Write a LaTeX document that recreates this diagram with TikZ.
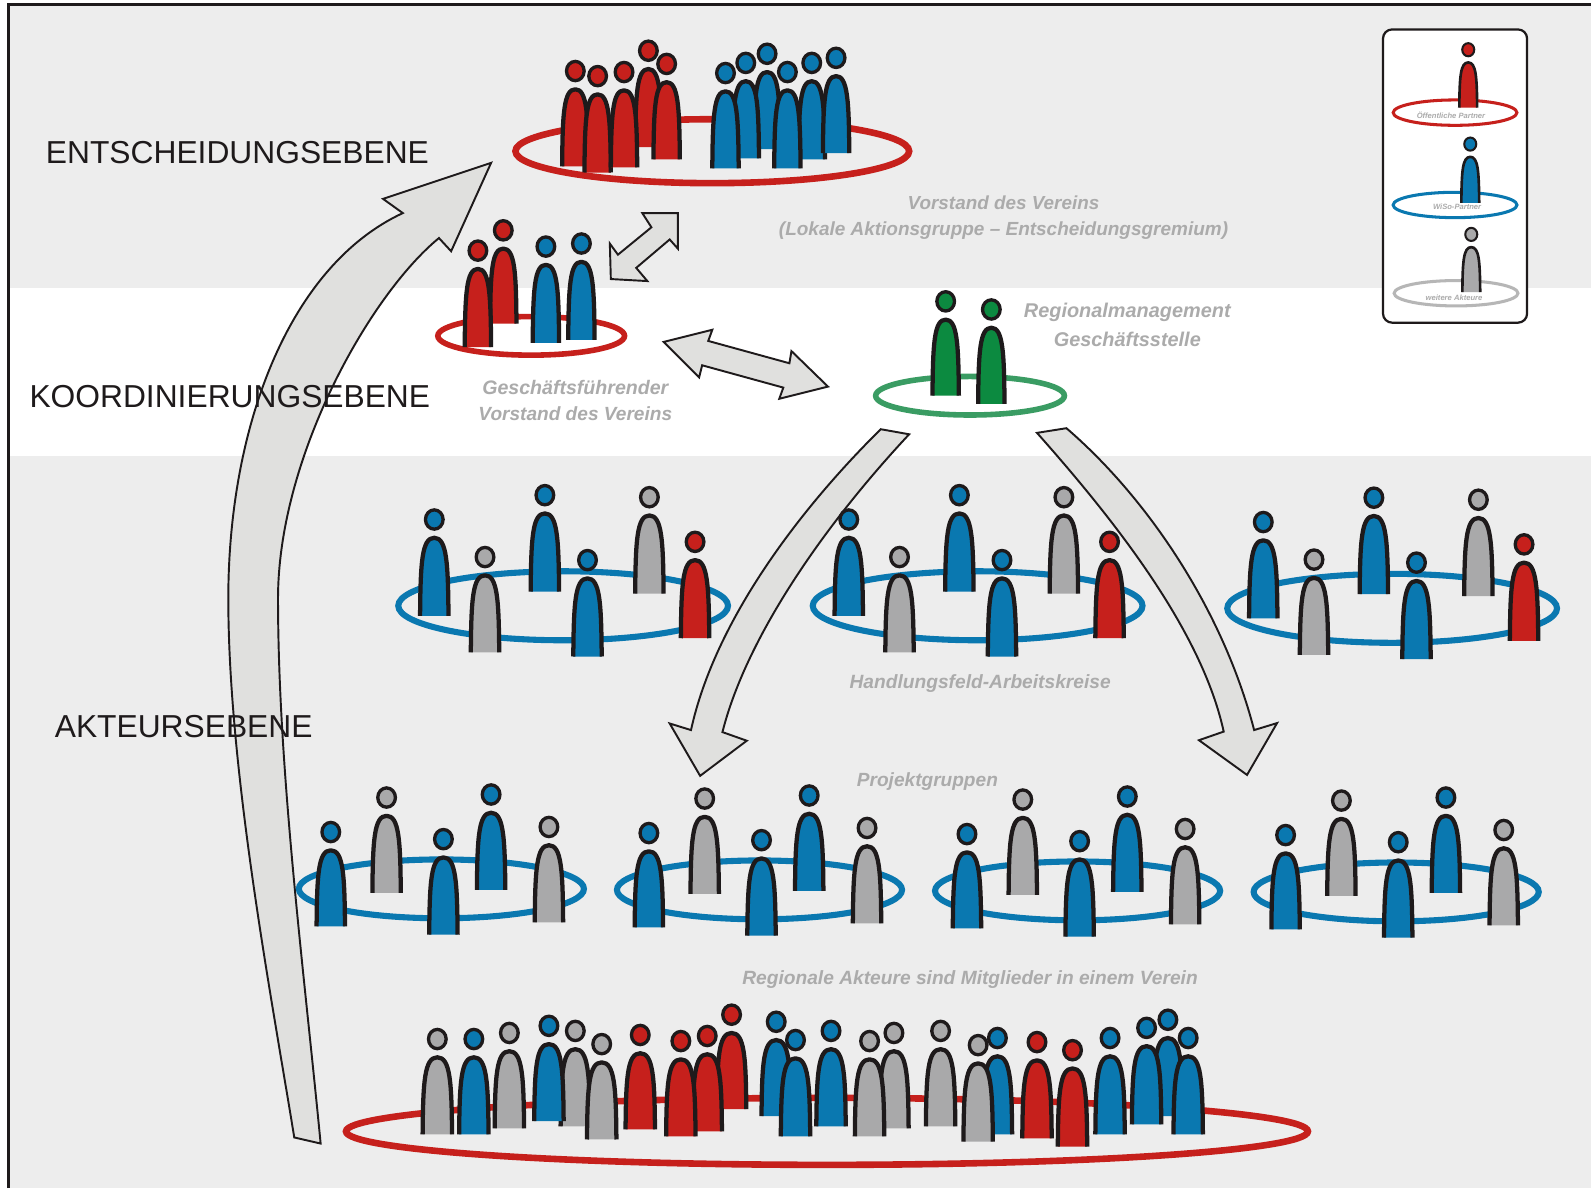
\documentclass[tikz,border=0pt]{standalone}
\usepackage{fontspec}
\setmainfont{Liberation Sans}
\definecolor{pred}{HTML}{C6201C}
\definecolor{pblue}{HTML}{0A78B0}
\definecolor{pgray}{HTML}{A9A9AA}
\definecolor{pgreen}{HTML}{0C8A40}
\definecolor{rgreen}{HTML}{3A9C63}
\definecolor{rgray}{HTML}{B6B6B6}
\definecolor{band}{HTML}{EDEDED}
\definecolor{arrowfill}{HTML}{E0E0DE}
\definecolor{cap}{HTML}{ABABAB}
\definecolor{ink}{HTML}{1E1A1B}
\tikzset{
  bodyline/.style={draw=ink,line width=\plw,line cap=butt,line join=round},
  headline/.style={draw=ink,line width=0.78*\plw},
  bigarrow/.style={draw=ink,fill=arrowfill,line width=1.9pt,line join=miter,miter limit=8},
  levellabel/.style={font=\fontsize{31.3}{36}\selectfont,text=ink,inner sep=0pt},
  captext/.style={font=\bfseries\itshape\fontsize{#1}{#1}\selectfont,text=cap,inner sep=0pt,align=center},
}
\newcommand\plw{4.2pt}
\newcommand\pw{14}
\newcommand\ps{1}
% \person{head x}{head y}{bottom y}{colour}
\newcommand\person[4]{%
  \begin{scope}[shift={(#1,#2)}]
    \pgfmathsetmacro\ph{#3-#2}
    \pgfmathsetmacro\ptop{17*\ps+1}
    \pgfmathsetmacro\pmid{\ptop+(\ph-\ptop)*0.32}
    \pgfmathsetmacro\pa{\pw}
    \pgfmathsetmacro\pb{\pw*0.97}
    \pgfmathsetmacro\pc{\pw*0.88}
    \path[fill=#4,bodyline] (-\pa,\ph) .. controls (-\pb,\pmid) and (-\pc,\ptop) .. (0,\ptop)
       .. controls (\pc,\ptop) and (\pb,\pmid) .. (\pa,\ph);
    \path[fill=#4,headline] (0,0) ellipse [x radius=8.7*\ps,y radius=9.5*\ps];
  \end{scope}}
\newcommand\projgroup[2]{%
  \begin{scope}[shift={(#1,#2)}]
    \draw[pblue,line width=6pt] (435,876) ellipse [x radius=140.5,y radius=29];
    \person{381}{786}{880}{pgray}
    \person{484}{783}{877}{pblue}
    \person{326}{820}{913}{pblue}
    \person{437}{827}{921}{pblue}
    \person{541}{815}{909}{pgray}
  \end{scope}}
\newcommand\workgroup[2]{%
  \begin{scope}[shift={(#1,#2)}]
    \draw[pblue,line width=6pt] (555,597) ellipse [x radius=162.5,y radius=34];
    \person{428}{512}{607}{pblue}
    \person{537}{488}{583}{pblue}
    \person{640}{490}{585}{pgray}
    \person{478}{549}{643}{pgray}
    \person{579}{552}{647}{pblue}
    \person{685}{534}{629}{pred}
  \end{scope}}
\begin{document}
\begin{tikzpicture}[x=1pt,y=-1pt]
\useasboundingbox (0,0) rectangle (1568,1170.9);
\fill[white] (0,0) rectangle (1568,1170.9);
\fill[band] (9,5) rectangle (1568,284);
\fill[band] (9,449) rectangle (1568,1170.9);
\draw[ink,line width=2.8pt] (8,1170.9) -- (8,4.5) -- (1568,4.5);

% big arrows
\path[bigarrow] (316,1127) -- (290,1121) .. controls (268,985) and (225,760) .. (225,590)
  .. controls (225,420) and (285,262) .. (397,210)
  -- (377.5,196) -- (484,160.5) -- (444.6,247.6) -- (432.6,234.6)
  .. controls (365,290) and (274,450) .. (274,590)
  .. controls (274,760) and (300,960) .. (316,1127) -- cycle;
\path[bigarrow] (868,423) .. controls (790,500) and (705,610) .. (681,719.5)
  -- (660,713) -- (690,764.6) -- (736,730) -- (712,721.5)
  .. controls (735,630) and (810,520) .. (896,428) -- cycle;
\path[bigarrow] (1051,422) .. controls (1130,490) and (1205,600) .. (1236,719.5)
  -- (1258.6,712.6) -- (1229,763.7) -- (1181.6,729.5) -- (1206,721)
  .. controls (1185,625) and (1105,520) .. (1022,426.6) -- cycle;
\path[bigarrow] (668,210) -- (633,210) -- (642,224) -- (609,251) -- (601,240) -- (602,275) -- (638,277) -- (627,264) -- (660,236) -- (668,245) -- cycle;
\path[bigarrow] (654,337) -- (702,325) -- (698,336) -- (778,358) -- (780,346) -- (816,381) -- (768,393) -- (772,382) -- (692,360) -- (689,372) -- cycle;

% level labels
\node[levellabel] (l1) at (234,150) {ENTSCHEIDUNGSEBENE};
\node[levellabel] (l2) at (226.5,391) {KOORDINIERUNGSEBENE};
\node[levellabel] (l3) at (181,716) {AKTEURSEBENE};

% Vorstand
\draw[pred,line width=6.5pt] (702,149) ellipse [x radius=194,y radius=31.5];
\renewcommand\pw{13}
\person{639}{50}{145}{pred}
\person{567}{70}{164}{pred}
\person{589}{75}{170}{pred}
\person{615}{71}{165}{pred}
\person{657}{63}{157}{pred}
\person{756}{53}{147}{pblue}
\person{735}{62}{156}{pblue}
\person{715}{72}{166}{pblue}
\person{800}{62}{157}{pblue}
\person{824}{57}{151}{pblue}
\person{776}{71}{166}{pblue}

% geschaeftsfuehrender Vorstand
\draw[pred,line width=5.5pt] (523.5,331) ellipse [x radius=92,y radius=19];
\person{496}{227}{319}{pred}
\person{471}{247}{342}{pred}
\person{538}{243}{338}{pblue}
\person{573}{240}{335}{pblue}

% Regionalmanagement
\draw[rgreen,line width=5.5pt] (956,390) ellipse [x radius=93,y radius=19];
\person{932}{297}{390}{pgreen}
\person{977}{305}{398}{pgreen}

\renewcommand\pw{14}
\workgroup{0}{0}
\workgroup{408.5}{0}
\workgroup{817}{2.5}

\projgroup{0}{0}
\projgroup{313.5}{1}
\projgroup{627}{2}
\projgroup{941}{3}

% Mitglieder
\draw[pred,line width=6.5pt] (815,1115) ellipse [x radius=474,y radius=33];
\renewcommand\pw{14.5}
\person{431}{1024}{1118}{pgray}
\person{467}{1024}{1118}{pblue}
\person{502}{1018}{1112}{pgray}
\person{567}{1016}{1110}{pgray}
\person{541}{1011}{1105}{pblue}
\person{593}{1029}{1123}{pgray}
\person{631}{1020}{1113}{pred}
\person{721}{1000}{1093}{pred}
\person{697}{1021}{1115}{pred}
\person{671}{1026}{1120}{pred}
\person{765}{1007}{1100}{pblue}
\person{784}{1025}{1120}{pblue}
\person{819}{1016}{1110}{pblue}
\person{881}{1018}{1112}{pgray}
\person{857}{1026}{1120}{pgray}
\person{927}{1016}{1110}{pgray}
\person{983}{1023}{1118}{pblue}
\person{964}{1030}{1125}{pgray}
\person{1022}{1027}{1122}{pred}
\person{1057}{1035}{1130}{pred}
\person{1094}{1023}{1118}{pblue}
\person{1151}{1005}{1100}{pblue}
\person{1130}{1013}{1108}{pblue}
\person{1171}{1023}{1118}{pblue}

% captions
\node[captext=18.6] (c1) at (989,200) {Vorstand des Vereins};
\node[captext=18.7] (c2) at (989,227) {(Lokale Aktionsgruppe -- Entscheidungsgremium)};
\node[captext=19.6] (c3) at (1111,308) {Regionalmanagement};
\node[captext=19.6] (c4) at (1111,334) {Geschäftsstelle};
\node[captext=19.3] (c5) at (567,382) {Geschäftsführender};
\node[captext=18.8] (c6) at (567,408) {Vorstand des Vereins};
\node[captext=18.9] (c7) at (966,674) {Handlungsfeld-Arbeitskreise};
\node[captext=18.8] (c8) at (914,770) {Projektgruppen};
\node[captext=18.9] (c9) at (956,965) {Regionale Akteure sind Mitglieder in einem Verein};

% legend
\draw[ink,fill=white,line width=2.2pt,rounded corners=9pt] (1363,29) rectangle (1505,318);
\renewcommand\plw{2.6pt}
\renewcommand\pw{8.8}
\renewcommand\ps{0.68}
\draw[pred,line width=3pt] (1434,111) ellipse [x radius=61,y radius=12.5];
\person{1447}{49}{106}{pred}
\draw[pblue,line width=3pt] (1434,202) ellipse [x radius=61,y radius=12.5];
\person{1449}{142}{200}{pblue}
\draw[rgray,line width=3pt] (1435,289) ellipse [x radius=61,y radius=12.5];
\person{1450}{231}{288}{pgray}
\node[captext=7.5] (k1) at (1430,114) {Öffentliche Partner};
\node[captext=7.5] (k2) at (1436,204) {WiSo-Partner};
\node[captext=7.5] (k3) at (1433,293) {weitere Akteure};
\end{tikzpicture}
\end{document}
